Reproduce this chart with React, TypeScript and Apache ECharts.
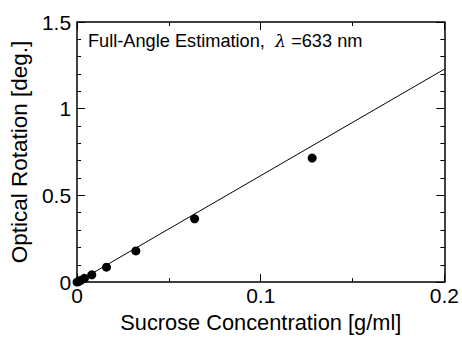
import React, { useEffect, useRef } from "react";
import * as echarts from "echarts";

const concentration = [0, 0.001, 0.002, 0.004, 0.008, 0.016, 0.032, 0.064, 0.128];
const rotation = [0, 0.005, 0.01, 0.022, 0.042, 0.086, 0.18, 0.365, 0.715];
const fitX = [0, 0.2];
const fitY = [0, 1.228];

const FONT = "'Liberation Sans', Arial, sans-serif";

export default function App() {
  const ref = useRef<HTMLDivElement>(null);
  useEffect(() => {
    if (!ref.current) return;
    const chart = echarts.init(ref.current, undefined, { renderer: "svg" });
    const axisCommon = {
      axisLine: { show: true, onZero: false, lineStyle: { color: "#000", width: 1.5 } },
      axisTick: { show: true, inside: true, length: 8, lineStyle: { color: "#000", width: 1 } },
      minorTick: { show: true, length: 4, lineStyle: { color: "#000", width: 1 } },
      splitLine: { show: false },
      minorSplitLine: { show: false },
    };
    chart.setOption({
      animation: false,
      backgroundColor: "#fff",
      title: {
        text: "{a|Full-Angle Estimation,  }{l|λ}{a| =633 nm}",
        left: 83,
        top: 27,
        textStyle: {
          rich: {
            a: { fontFamily: FONT, fontSize: 18.2, fontWeight: "normal", color: "#000" },
            l: { fontFamily: "'DejaVu Serif', serif", fontStyle: "italic", fontWeight: "normal", fontSize: 17.5, color: "#000" },
          },
        },
      },
      grid: { left: 77, right: 16, top: 22, bottom: 53, containLabel: false },
      xAxis: [
        {
          ...axisCommon,
          type: "value",
          min: 0,
          max: 0.2,
          interval: 0.1,
          minorTick: { ...axisCommon.minorTick, splitNumber: 2 },
          axisLabel: { color: "#000", fontFamily: FONT, fontSize: 21, margin: 3 },
          name: "Sucrose Concentration [g/ml]",
          nameLocation: "middle",
          nameGap: 22,
          nameTextStyle: { color: "#000", fontFamily: FONT, fontSize: 21.8 },
        },
        {
          ...axisCommon,
          type: "value",
          position: "top",
          min: 0,
          max: 0.2,
          interval: 0.1,
          minorTick: { ...axisCommon.minorTick, splitNumber: 2 },
          axisLabel: { show: false },
        },
      ],
      yAxis: [
        {
          ...axisCommon,
          type: "value",
          min: 0,
          max: 1.5,
          interval: 0.5,
          minorTick: { ...axisCommon.minorTick, splitNumber: 5 },
          axisLabel: { color: "#000", fontFamily: FONT, fontSize: 21, margin: 6 },
          name: "Optical Rotation [deg.]",
          nameLocation: "middle",
          nameGap: 45,
          nameTextStyle: { color: "#000", fontFamily: FONT, fontSize: 22.5 },
        },
        {
          ...axisCommon,
          type: "value",
          position: "right",
          min: 0,
          max: 1.5,
          interval: 0.5,
          minorTick: { ...axisCommon.minorTick, splitNumber: 5 },
          axisLabel: { show: false },
        },
      ],
      series: [
        {
          type: "line",
          data: fitX.map((x, i) => [x, fitY[i]]),
          showSymbol: false,
          symbol: "none",
          lineStyle: { color: "#000", width: 1 },
          silent: true,
          z: 2,
        },
        {
          type: "scatter",
          data: concentration.map((x, i) => [x, rotation[i]]),
          symbol: "circle",
          symbolSize: 9,
          itemStyle: { color: "#000", opacity: 1 },
          z: 3,
        },
      ],
    });
    return () => chart.dispose();
  }, []);
  return <div ref={ref} style={{ position: "fixed", left: 0, top: 0, width: 462, height: 338 }} />;
}
